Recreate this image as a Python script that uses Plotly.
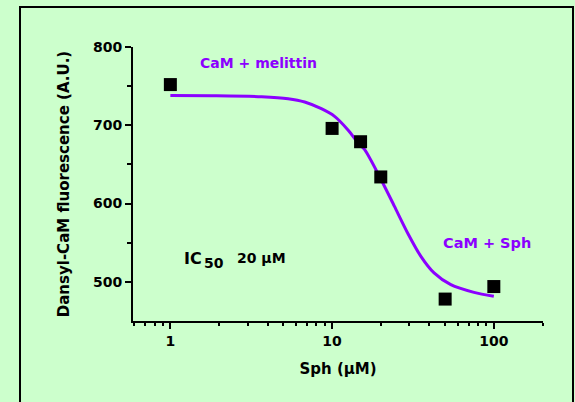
import plotly.graph_objects as go

# Measured data points
sph_conc = [1, 10, 15, 20, 50, 100]
fluorescence = [752, 696, 679, 634, 478, 494]

# Fitted curve
curve_x = [1, 1.8, 3.67, 5.35, 6.77, 8.58, 10.36, 12.5, 14.8, 15.9, 20.1, 24.3,
           29.3, 35.4, 42.7, 54.2, 75.4, 100]
curve_y = [738.2, 737.8, 736.5, 734.0, 729.8, 721.2, 711.4, 694.4, 675.2, 668.8,
           630.5, 596.4, 562.5, 532.6, 511.4, 496.4, 486.6, 481.5]

x_major = [1, 10, 100]
x_major_text = ["1", "10", "100"]
x_minor = [0.6, 0.7, 0.8, 0.9, 2, 3, 4, 5, 6, 7, 8, 9, 20, 30, 40, 50, 60, 70, 80, 90, 200]
y_major = [500, 600, 700, 800]
y_minor = [550, 650, 750]

BG = "#CCFFCC"
PURPLE = "#8B00FF"
FONT = "DejaVu Sans, Arial, sans-serif"

fig = go.Figure()
fig.add_trace(go.Scatter(x=curve_x, y=curve_y, mode="lines",
                         line=dict(color=PURPLE, width=3, shape="spline", smoothing=0.8),
                         showlegend=False, hoverinfo="skip"))
fig.add_trace(go.Scatter(x=sph_conc, y=fluorescence, mode="markers",
                         marker=dict(symbol="square", size=13, color="black",
                                     line=dict(width=0)),
                         showlegend=False))

L, R, T, B = 133, 32, 47, 81
W, H = 575, 402
pw, ph = W - L - R, H - T - B


def px(x):
    return (x - L) / pw


def py(y):
    return 1 - (y - T) / ph


def note(text, x, y, size, color, anchor="left"):
    return dict(text=text, xref="paper", yref="paper", x=px(x), y=py(y),
                xanchor=anchor, yanchor="middle", showarrow=False,
                font=dict(family=FONT, size=size, color=color, weight="bold"))


fig.update_layout(
    width=W, height=H,
    margin=dict(l=L, r=R, t=T, b=B, pad=0),
    paper_bgcolor=BG, plot_bgcolor=BG,
    font=dict(family=FONT, color="black", size=13),
    xaxis=dict(type="log", range=[-0.231, 2.304],
               tickvals=x_major, ticktext=x_major_text,
               ticks="outside", ticklen=6, tickwidth=2, tickcolor="black",
               minor=dict(tickvals=x_minor, ticks="outside", ticklen=3,
                          tickwidth=2, tickcolor="black", showgrid=False),
               showline=True, linecolor="black", linewidth=2,
               showgrid=False, zeroline=False,
               tickfont=dict(family=FONT, size=14, weight="bold"),
               title=dict(text="Sph (μM)", standoff=16,
                          font=dict(family=FONT, size=15, weight="bold"))),
    yaxis=dict(range=[450, 800],
               tickvals=y_major,
               ticks="outside", ticklen=6, tickwidth=2, tickcolor="black",
               minor=dict(tickvals=y_minor, ticks="outside", ticklen=4,
                          tickwidth=2, tickcolor="black", showgrid=False),
               showline=True, linecolor="black", linewidth=2,
               showgrid=False, zeroline=False,
               tickfont=dict(family=FONT, size=14, weight="bold"),
               title=dict(text="Dansyl-CaM fluorescence (A.U.)", standoff=20,
                          font=dict(family=FONT, size=15, weight="bold"))),
    annotations=[
        note("CaM + melittin", 198, 63, 14, PURPLE),
        note("CaM + Sph", 441, 243, 14.5, PURPLE),
        note("IC", 182, 258, 16, "black"),
        note("50", 202, 263, 14, "black"),
        note("20 μM", 235, 258, 14, "black"),
    ],
    shapes=[
        dict(type="rect", xref="paper", yref="paper",
             x0=px(20), x1=px(573),
             y0=py(420), y1=py(7),
             line=dict(color="black", width=2), fillcolor="rgba(0,0,0,0)", layer="below"),
    ],
)

fig.write_html("out.html")
